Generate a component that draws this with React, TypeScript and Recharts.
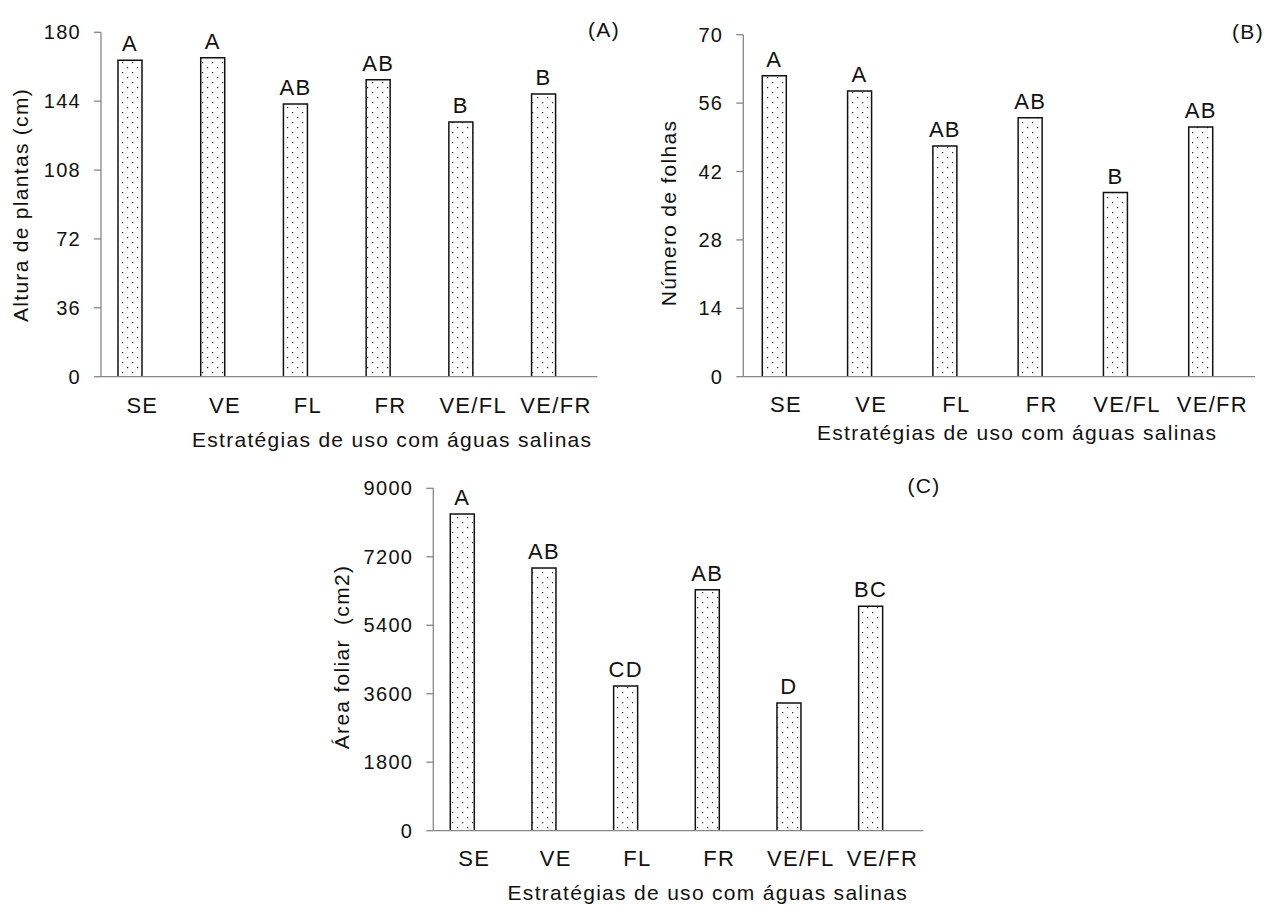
import React from 'react';
import { BarChart, Bar, XAxis, YAxis, LabelList } from 'recharts';

const categories = ['SE', 'VE', 'FL', 'FR', 'VE/FL', 'VE/FR'];

const alturaValues = [165.4, 166.7, 142.5, 155.2, 133.1, 147.8];
const alturaLetters = ['A', 'A', 'AB', 'AB', 'B', 'B'];
const alturaTicks = [0, 36, 72, 108, 144, 180];

const folhasValues = [61.6, 58.5, 47.2, 53.0, 37.7, 51.1];
const folhasLetters = ['A', 'A', 'AB', 'AB', 'B', 'AB'];
const folhasTicks = [0, 14, 28, 42, 56, 70];

const areaValues = [8325, 6905, 3803, 6335, 3357, 5898];
const areaLetters = ['A', 'AB', 'CD', 'AB', 'D', 'BC'];
const areaTicks = [0, 1800, 3600, 5400, 7200, 9000];

const edgeTicks = [0, 1, 2, 3, 4, 5, 6];

const xTitle = 'Estratégias de uso com águas salinas';

const FONT = '"Liberation Sans", Arial, Helvetica, sans-serif';
const AXIS = '#878787';
const INK = '#111';

function buildData(values: number[], letters: string[]) {
  return categories.map((cat, i) => ({ cat, value: values[i], letter: letters[i] }));
}

type PanelProps = {
  id: string;
  left: number;
  top: number;
  width: number;
  height: number;
  margin: { top: number; right: number; bottom: number; left: number };
  values: number[];
  letters: string[];
  ticks: number[];
  catMargin: number;
  titleOffset: number;
  titleDx: number;
};

function Panel(p: PanelProps) {
  const data = buildData(p.values, p.letters);
  const pid = 'dots' + p.id;
  return (
    <div style={{ position: 'absolute', left: p.left, top: p.top }}>
      <BarChart width={p.width} height={p.height} data={data} margin={p.margin} barGap={0}>
        <defs>
          <pattern id={pid} patternUnits="userSpaceOnUse" width={10} height={10}>
            <rect x={0} y={0} width={10} height={10} fill="#fff" />
            <rect x={2} y={2} width={1.2} height={1.2} fill="#222" />
            <rect x={7} y={7} width={1.2} height={1.2} fill="#222" />
          </pattern>
        </defs>
        <XAxis
          xAxisId="edge"
          type="number"
          domain={[0, 6]}
          ticks={edgeTicks}
          allowDataOverflow
          tick={false}
          tickSize={8}
          height={70}
          axisLine={false}
          tickLine={{ stroke: AXIS, strokeWidth: 1.3 }}
          label={{
            value: xTitle,
            position: 'insideBottom',
            offset: p.titleOffset,
            dx: p.titleDx,
            fontSize: 21,
            fill: INK,
            fontFamily: FONT,
          }}
        />
        <XAxis
          xAxisId="cat"
          dataKey="cat"
          type="category"
          height={1}
          axisLine={{ stroke: AXIS, strokeWidth: 1.3 }}
          tickLine={false}
          tickSize={0}
          tickMargin={p.catMargin}
          interval={0}
          tick={{ fontSize: 22, fill: INK, fontFamily: FONT }}
        />
        <YAxis
          width={60}
          domain={[p.ticks[0], p.ticks[p.ticks.length - 1]]}
          ticks={p.ticks}
          interval={0}
          allowDataOverflow
          tickSize={7}
          tickMargin={13}
          axisLine={{ stroke: AXIS, strokeWidth: 1.3 }}
          tickLine={{ stroke: AXIS, strokeWidth: 1.3 }}
          tick={{ fontSize: 20, fill: INK, fontFamily: FONT }}
        />
        <Bar
          xAxisId="cat"
          dataKey="value"
          barSize={24}
          fill={`url(#${pid})`}
          stroke={INK}
          strokeWidth={1.5}
          isAnimationActive={false}
        >
          <LabelList
            dataKey="letter"
            position="top"
            offset={9}
            fontSize={22}
            fill={INK}
            fontFamily={FONT}
          />
        </Bar>
        <Bar xAxisId="cat" dataKey="ghost" barSize={24} fill="none" isAnimationActive={false} />
      </BarChart>
    </div>
  );
}

const textBase: React.CSSProperties = {
  position: 'absolute',
  fontFamily: FONT,
  fontSize: 21,
  lineHeight: 1,
  color: INK,
  whiteSpace: 'pre',
  letterSpacing: '1.3px',
};

function VTitle({ x, y, text }: { x: number; y: number; text: string }) {
  return (
    <div
      style={{
        ...textBase,
        left: x,
        top: y,
        transform: 'translate(-50%, -50%) rotate(-90deg)',
      }}
    >
      {text}
    </div>
  );
}

function Tag({ x, y, text }: { x: number; y: number; text: string }) {
  return (
    <div style={{ ...textBase, left: x, top: y, transform: 'translate(-50%, -50%)' }}>{text}</div>
  );
}

export default function App() {
  return (
    <div
      style={{
        position: 'absolute',
        left: 0,
        top: 0,
        width: 1267,
        height: 907,
        background: '#fff',
        overflow: 'hidden',
        fontFamily: FONT,
        letterSpacing: '1.3px',
      }}
    >
      <Panel
        id="A"
        left={0}
        top={0}
        width={640}
        height={460}
        margin={{ top: 32.3, right: 42.7, bottom: 12.3, left: 41 }}
        values={alturaValues}
        letters={alturaLetters}
        ticks={alturaTicks}
        catMargin={21}
        titleOffset={1}
        titleDx={43}
      />
      <Panel
        id="B"
        left={640}
        top={0}
        width={627}
        height={460}
        margin={{ top: 34.7, right: 12, bottom: 12.3, left: 43.3 }}
        values={folhasValues}
        letters={folhasLetters}
        ticks={folhasTicks}
        catMargin={19.7}
        titleOffset={7.7}
        titleDx={18}
      />
      <Panel
        id="C"
        left={300}
        top={460}
        width={700}
        height={447}
        margin={{ top: 28.3, right: 76.7, bottom: 5.3, left: 73.3 }}
        values={areaValues}
        letters={areaLetters}
        ticks={areaTicks}
        catMargin={19.7}
        titleOffset={2.2}
        titleDx={29.5}
      />
      <VTitle x={20} y={204.5} text="Altura de plantas (cm)" />
      <VTitle x={668} y={213} text="Número de folhas" />
      <VTitle x={341} y={656.7} text="Área foliar  (cm2)" />
      <Tag x={604} y={29} text="(A)" />
      <Tag x={1248} y={31} text="(B)" />
      <Tag x={924} y={485} text="(C)" />
    </div>
  );
}
